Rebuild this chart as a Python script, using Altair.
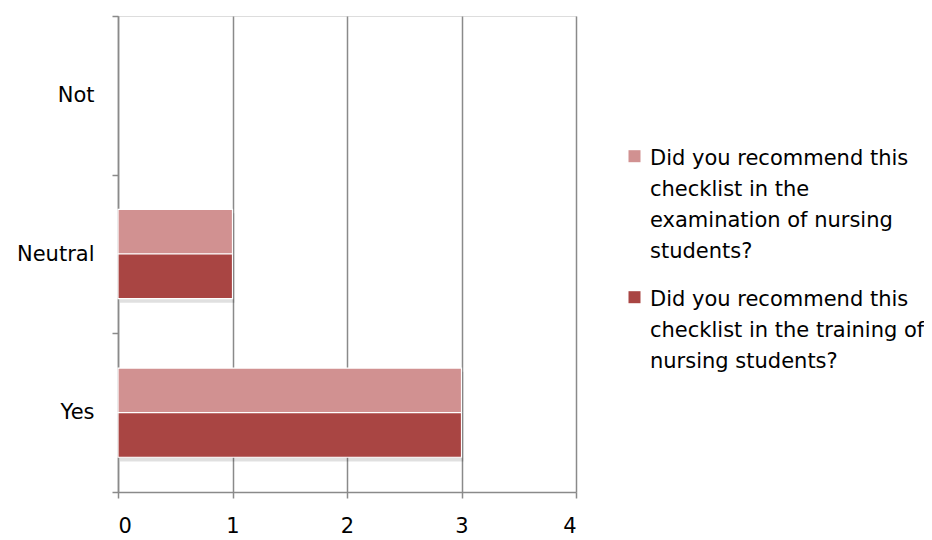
import altair as alt
import pandas as pd

categories = ["Not", "Neutral", "Yes"]
series = [
    "Did you recommend this checklist in the examination of nursing students?",
    "Did you recommend this checklist in the training of nursing students?",
]
series_lines = [
    ["Did you recommend this", "checklist in the", "examination of nursing", "students?"],
    ["Did you recommend this", "checklist in the training of", "nursing students?"],
]
exam_values = [0, 1, 3]
training_values = [0, 1, 3]
colors = ["#D19191", "#A94543"]

rows = []
for c, e, t in zip(categories, exam_values, training_values):
    rows.append({"category": c, "series": series[0], "value": e})
    rows.append({"category": c, "series": series[1], "value": t})
df = pd.DataFrame(rows)

label_expr = " : ".join(
    [f"datum.label == {repr(s)} ? {repr(lines)}" for s, lines in zip(series, series_lines)]
) + " : datum.label"

FONT = "DejaVu Sans"
GRID = "#8a8a8a"
# square legend symbol, shifted down to sit beside the first label line
SQUARE_SHIFTED = "M-1,0.45H1V2.45H-1Z"

x_axis = alt.Axis(values=[0, 1, 2, 3, 4], format="d", title=None,
                  grid=True, gridColor=GRID, gridWidth=1.5,
                  domainColor=GRID, domainWidth=1.5,
                  tickColor=GRID, tickWidth=1.5, tickSize=6,
                  labelPadding=17, labelFontSize=21, labelFont=FONT,
                  labelColor="#000000")
y_axis = alt.Axis(title=None, tickBand="extent", grid=False,
                  domainColor=GRID, domainWidth=1.5,
                  tickColor=GRID, tickWidth=1.5, tickSize=6,
                  labelPadding=18, labelFontSize=21, labelFont=FONT,
                  labelColor="#000000")
x_scale = alt.Scale(domain=[0, 4])
y_scale = alt.Scale(domain=categories, paddingInner=0, paddingOuter=0)

base = alt.Chart(df).transform_filter("datum.value > 0")

shadow = base.transform_aggregate(
    value="max(value)", groupby=["category"]
).mark_bar(
    color="#000000", opacity=0.12, height=alt.RelativeBandSize(0.565),
    xOffset=2, yOffset=4
).encode(
    x=alt.X("value:Q", scale=x_scale, axis=x_axis),
    y=alt.Y("category:N", scale=y_scale, axis=y_axis),
)

bars = base.mark_bar(
    stroke="white", strokeWidth=1.2
).encode(
    x=alt.X("value:Q", scale=x_scale, axis=x_axis),
    y=alt.Y("category:N", scale=y_scale, axis=y_axis),
    yOffset=alt.YOffset("series:N", sort=series,
                        scale=alt.Scale(paddingInner=0, paddingOuter=0.78)),
    color=alt.Color("series:N", sort=series,
                    scale=alt.Scale(domain=series, range=colors),
                    legend=alt.Legend(title=None, orient="none", legendX=506, legendY=121,
                                      padding=0,
                                      labelExpr=label_expr, labelFont=FONT, labelFontSize=21,
                                      labelColor="#000000", labelLimit=400,
                                      symbolType=SQUARE_SHIFTED, symbolSize=144,
                                      symbolStrokeWidth=0, rowPadding=16,
                                      labelOffset=5, labelBaseline="top")),
)

chart = alt.layer(shadow, bars).properties(
    width=458, height=476,
    autosize=alt.AutoSizeParams(type="none"),
    padding={"left": 110, "top": 8, "right": 348, "bottom": 50},
).configure_view(stroke="transparent").configure(
    background="white", style={"guide-label": {"lineHeight": 31}}
)

chart.save("out.html", embed_options={"renderer": "svg", "actions": False})
